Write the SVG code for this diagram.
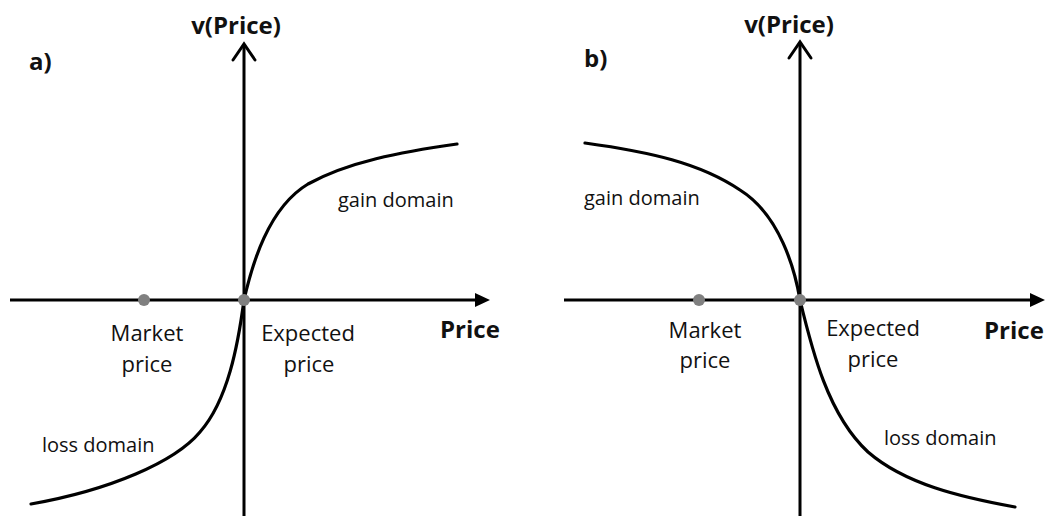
<svg xmlns="http://www.w3.org/2000/svg" width="1047" height="516" viewBox="0 0 1047 516">
<style>
.ax{stroke:#000;stroke-width:3;fill:none}
.cv{stroke:#000;stroke-width:3.2;fill:none;stroke-linecap:round}
.dot{fill:#808080}
.t{font-family:"Open Sans","Noto Sans","DejaVu Sans",sans-serif;fill:#111}
.b{font-weight:bold;font-size:24px}
.m{font-size:22px}
.d{font-size:20px}
</style>
<rect width="1047" height="516" fill="#fff"/>
<g id="connectors">
<line class="ax" x1="244" y1="516" x2="244" y2="45"/>
<polyline class="ax" points="233,60 244,44 255,60" stroke-linecap="round"/>
<line class="ax" x1="10" y1="300" x2="476" y2="300"/>
<polygon points="475,293 490,300 475,307" fill="#000"/>
<line class="ax" x1="800" y1="516" x2="800" y2="43"/>
<polyline class="ax" points="789,58 800,42 811,58" stroke-linecap="round"/>
<line class="ax" x1="564" y1="300" x2="1031" y2="300"/>
<polygon points="1030,293 1045,300 1030,307" fill="#000"/>
<path class="cv" d="M244,300 C252,265 268,208 308,184 C348,162 400,152 457,144"/>
<path class="cv" d="M244,300 C238,345 228,400 200,432 C175,462 110,490 31,504"/>
<path class="cv" d="M800,300 C795,270 780,215 740,190 C700,163 650,152 585,143"/>
<path class="cv" d="M800,300 C812,350 828,415 868,452 C905,484 960,497 1015,507"/>
</g>
<g id="panel-a">
<text class="t b" x="29" y="70">a)</text>
<text class="t b" x="236" y="34" text-anchor="middle">v(Price)</text>
<text class="t b" x="440" y="338">Price</text>
</g>
<g id="dot-a-market"><circle class="dot" cx="144" cy="300" r="6"/>
<text class="t m" text-anchor="middle"><tspan x="147" y="341">Market</tspan><tspan x="147" y="372">price</tspan></text></g>
<g id="dot-a-expected"><circle class="dot" cx="244" cy="300" r="6"/>
<text class="t m" text-anchor="middle"><tspan x="308" y="341">Expected</tspan><tspan x="309" y="372">price</tspan></text></g>
<g id="label-a-gain"><text class="t d" x="338" y="207">gain domain</text></g>
<g id="label-a-loss"><text class="t d" x="42" y="452">loss domain</text></g>
<g id="panel-b">
<text class="t b" x="584" y="67">b)</text>
<text class="t b" x="789" y="33" text-anchor="middle">v(Price)</text>
<text class="t b" x="984" y="339">Price</text>
</g>
<g id="dot-b-market"><circle class="dot" cx="699" cy="300" r="6"/>
<text class="t m" text-anchor="middle"><tspan x="705" y="338">Market</tspan><tspan x="705" y="368">price</tspan></text></g>
<g id="dot-b-expected"><circle class="dot" cx="800" cy="300" r="6"/>
<text class="t m" text-anchor="middle"><tspan x="873" y="336">Expected</tspan><tspan x="873" y="367">price</tspan></text></g>
<g id="label-b-gain"><text class="t d" x="584" y="205">gain domain</text></g>
<g id="label-b-loss"><text class="t d" x="884" y="445">loss domain</text></g>
</svg>
